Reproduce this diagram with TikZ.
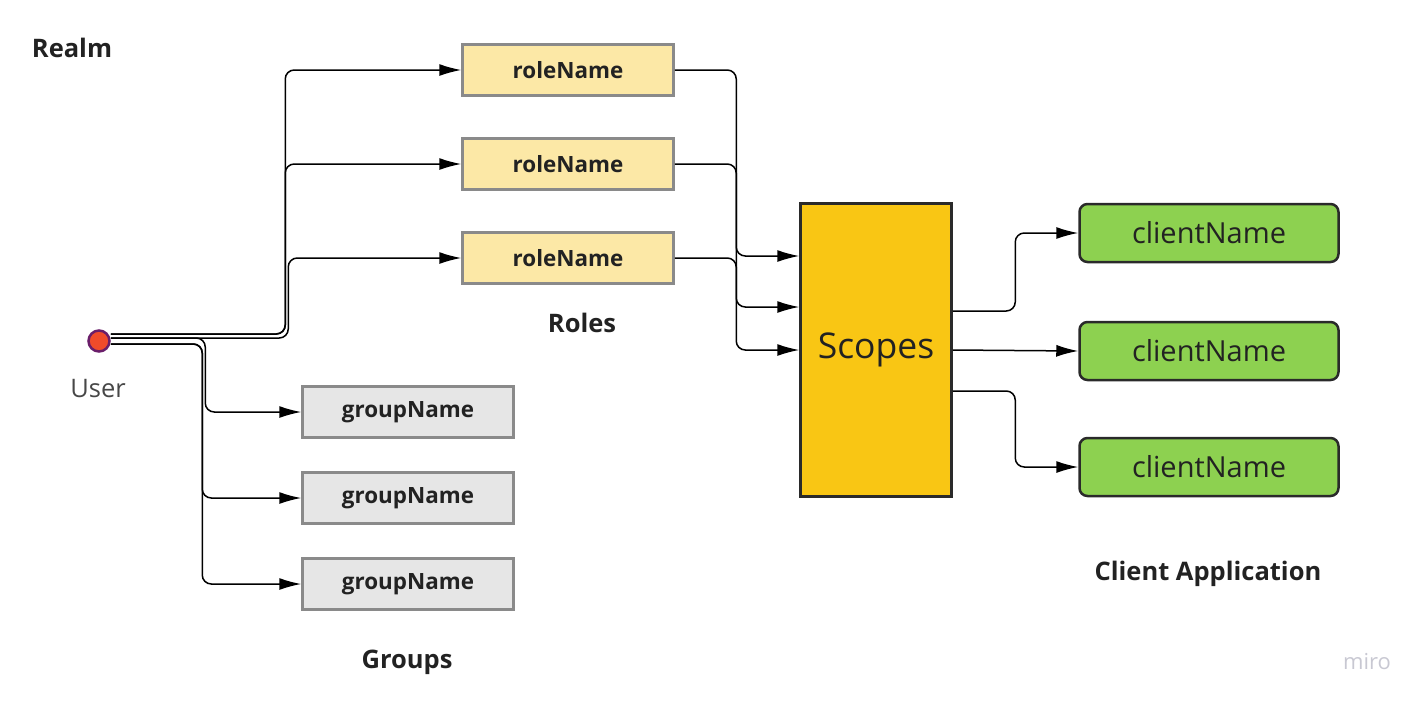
\documentclass[tikz,border=0pt]{standalone}
\usepackage{fontspec}
\setmainfont{Open Sans}
\usetikzlibrary{arrows.meta,positioning,calc}
\definecolor{rolefill}{HTML}{FCE8A6}
\definecolor{groupfill}{HTML}{E6E6E6}
\definecolor{scopefill}{HTML}{F9C614}
\definecolor{clientfill}{HTML}{8DD150}
\definecolor{boxgray}{HTML}{8A8A8A}
\definecolor{boxdark}{HTML}{2A2A2A}
\definecolor{userfill}{HTML}{EF4B2B}
\definecolor{userline}{HTML}{6A1E6A}
\definecolor{labeltext}{HTML}{222222}
\definecolor{mirotext}{HTML}{C8C8D2}

\begin{document}
\begin{tikzpicture}[x=1pt,y=-1pt,
    rolebox/.style={draw=boxgray,line width=2.5pt,fill=rolefill,minimum width=211pt,minimum height=51pt,
        text=labeltext,font=\fontsize{22.4}{26}\selectfont\bfseries},
    groupbox/.style={rolebox,fill=groupfill},
    clientbox/.style={draw=boxdark,line width=2.5pt,fill=clientfill,rounded corners=8pt,
        minimum width=259pt,minimum height=58pt,text=labeltext,font=\fontsize{29}{34}\selectfont},
    heading/.style={text=labeltext,font=\fontsize{25.5}{30}\selectfont\bfseries},
    conn/.style={line width=1.5pt,rounded corners=9pt,-{Latex[length=22pt,width=12pt]}}]
    \useasboundingbox (0,0) rectangle (1423,702);

    % realm and user
    \node[heading] (realm) at (72,48) {Realm};
    \node[circle,draw=userline,line width=2.5pt,fill=userfill,minimum size=21pt,inner sep=0pt] (user) at (99,341) {};
    \node[text=black!72,font=\fontsize{25.5}{30}\selectfont] (userlabel) at (98,389) {User};

    % roles
    \node[rolebox] (role1) at (568,70) {roleName};
    \node[rolebox] (role2) at (568,164) {roleName};
    \node[rolebox] (role3) at (568,258) {roleName};
    \node[heading] (roles) at (582,323) {Roles};

    % groups
    \node[groupbox] (group1) at (408,412) {groupName};
    \node[groupbox] (group2) at (408,498) {groupName};
    \node[groupbox] (group3) at (408,584) {groupName};
    \node[heading] (groups) at (407,662) {Groups};

    % scopes and clients
    \node[draw=boxdark,line width=2.5pt,fill=scopefill,minimum width=151pt,minimum height=293pt,
        text=labeltext,font=\fontsize{35.5}{42}\selectfont] (scopes) at (876,350) {Scopes};
    \node[clientbox] (client1) at (1209,233) {clientName};
    \node[clientbox] (client2) at (1209,351) {clientName};
    \node[clientbox] (client3) at (1209,467) {clientName};
    \node[heading] (clientapp) at (1208,574) {Client Application};
    \node[text=mirotext,font=\fontsize{22}{26}\selectfont] (miro) at (1367,662) {miro};

    % user -> roles
    \draw[conn] ([yshift=7pt]user.east) -| ([xshift=-176pt]role1.west) -- (role1.west);
    \draw[conn] ([yshift=7pt]user.east) -| ([xshift=-176pt]role2.west) -- (role2.west);
    \draw[conn] ([yshift=3pt]user.east) -| ([xshift=-173pt]role3.west) -- (role3.west);
    % user -> groups
    \draw[conn] ([yshift=3pt]user.east) -| ([xshift=-96pt]group1.west) -- (group1.west);
    \draw[conn] ([yshift=-3pt]user.east) -| ([xshift=-99pt]group2.west) -- (group2.west);
    \draw[conn] ([yshift=-3pt]user.east) -| ([xshift=-99pt]group3.west) -- (group3.west);

    % roles -> scopes
    \draw[conn] (role1.east) -| ([xshift=-63pt,yshift=94pt]scopes.west) -- ([yshift=94pt]scopes.west);
    \draw[conn] (role2.east) -| ([xshift=-63pt,yshift=43pt]scopes.west) -- ([yshift=43pt]scopes.west);
    \draw[conn] (role3.east) -| ([xshift=-63pt]scopes.west) -- (scopes.west);

    % scopes -> clients
    \draw[conn] ([yshift=39pt]scopes.east) -| ([xshift=-63pt]client1.west) -- (client1.west);
    \draw[conn] (scopes.east) -- (client2.west);
    \draw[conn] ([yshift=-41pt]scopes.east) -| ([xshift=-63pt]client3.west) -- (client3.west);
\end{tikzpicture}
\end{document}
